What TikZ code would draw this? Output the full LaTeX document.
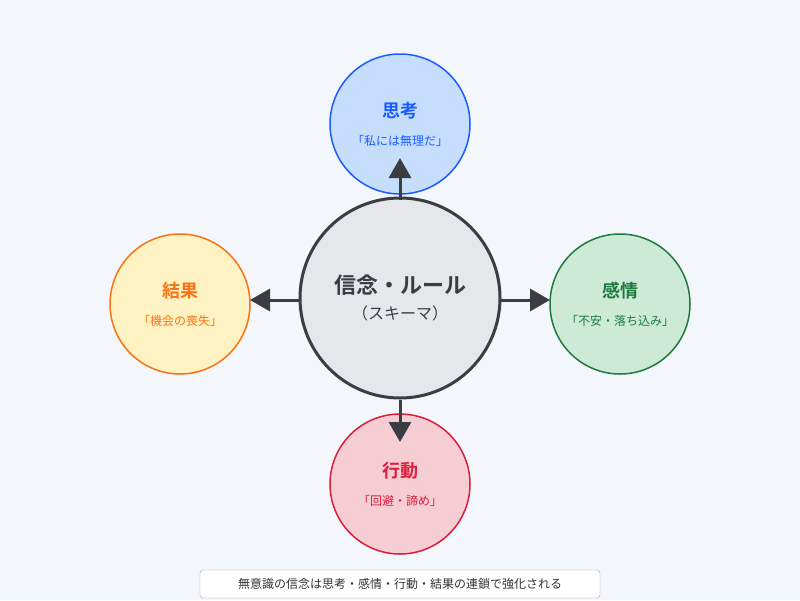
\documentclass[tikz,border=0pt]{standalone}
\usepackage{fontspec}
\setmainfont{Noto Sans CJK JP}
\newfontfamily\cjkbold{Noto Sans CJK JP Bold}
\usetikzlibrary{arrows.meta}
\definecolor{bgcol}{HTML}{F3F6FA}
\definecolor{coredark}{HTML}{3A3D42}
\definecolor{corefill}{HTML}{E5E7EB}
\definecolor{thinkfill}{HTML}{C6DDFC}
\definecolor{thinkline}{HTML}{1A5CFF}
\definecolor{resfill}{HTML}{FFF2C2}
\definecolor{resline}{HTML}{F97316}
\definecolor{feelfill}{HTML}{CDEAD6}
\definecolor{feelline}{HTML}{1E7A3E}
\definecolor{actfill}{HTML}{F6CDD3}
\definecolor{actline}{HTML}{DC1E3C}
\tikzset{
  satellite/.style={circle, minimum size=140pt, line width=1.5pt, inner sep=0pt, align=center},
  flow/.style={line width=3pt, draw=coredark, -{Triangle[length=20pt,width=22pt]}}
}
\begin{document}
\begin{tikzpicture}[x=1pt,y=-1pt]
\fill[bgcol] (0,0) rectangle (800,600);
\useasboundingbox (0,0) rectangle (800,600);
% satellites
\node[satellite, draw=thinkline, fill=thinkfill, text=thinkline] (think) at (400,124)
  {{\cjkbold\fontsize{18}{20}\selectfont 思考}\\[16pt]{\fontsize{12}{14}\selectfont 「私には無理だ」}};
\node[satellite, draw=resline, fill=resfill, text=resline] (result) at (180,304)
  {{\cjkbold\fontsize{18}{20}\selectfont 結果}\\[16pt]{\fontsize{12}{14}\selectfont 「機会の喪失」}};
\node[satellite, draw=feelline, fill=feelfill, text=feelline] (feel) at (620,304)
  {{\cjkbold\fontsize{18}{20}\selectfont 感情}\\[16pt]{\fontsize{12}{14}\selectfont 「不安・落ち込み」}};
\node[satellite, draw=actline, fill=actfill, text=actline] (act) at (400,484)
  {{\cjkbold\fontsize{18}{20}\selectfont 行動}\\[16pt]{\fontsize{12}{14}\selectfont 「回避・諦め」}};
% core
\node[circle, minimum size=200pt, draw=coredark, fill=corefill, line width=3pt, inner sep=0pt,
  align=center, text=coredark] (core) at (400,298)
  {{\cjkbold\fontsize{22}{24}\selectfont 信念・ルール}\\[10pt]{\fontsize{16}{18}\selectfont （スキーマ）}};
% arrows
\draw[flow] (400,200) -- (400,158);
\draw[flow] (300,300) -- (250,300);
\draw[flow] (500,300) -- (550,300);
\draw[flow] (400,400) -- (400,442);
% note
\node[draw=gray!70, fill=white, rounded corners=3pt, minimum width=400pt, minimum height=28pt,
  inner sep=0pt, font=\fontsize{12}{14}\selectfont, text=black!80] (note) at (400,584)
  {無意識の信念は思考・感情・行動・結果の連鎖で強化される};
\end{tikzpicture}
\end{document}
